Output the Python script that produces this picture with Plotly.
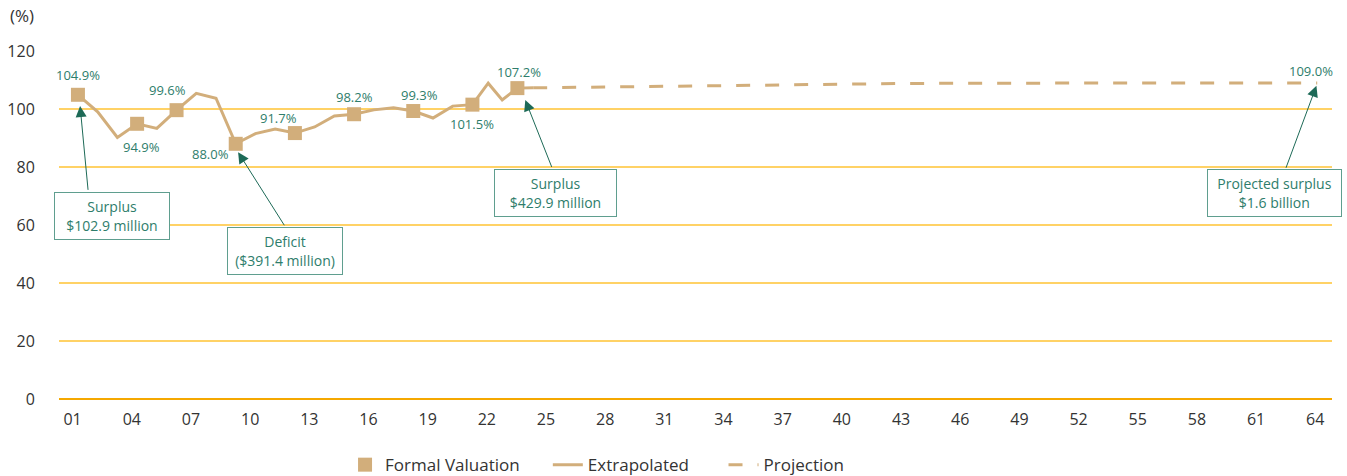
import plotly.graph_objects as go

# Axis ticks (two-digit year labels)
year_ticks = list(range(1, 65, 3))
tick_labels = [f"{y:02d}" for y in year_ticks]

# Formal valuation results (funded ratio, %)
val_x = [1.27, 4.27, 6.27, 9.27, 12.27, 15.27, 18.27, 21.27, 23.55]
val_y = [104.9, 94.9, 99.6, 88.0, 91.7, 98.2, 99.3, 101.5, 107.2]

# Extrapolated funded ratio between valuations
ext_x = [1.27, 2.27, 3.27, 4.27, 5.27, 6.27, 7.27, 8.27, 9.27, 10.27, 11.27,
         12.27, 13.27, 14.27, 15.27, 16.27, 17.27, 18.27, 19.27, 20.27, 21.27,
         22.07, 22.78, 23.55, 24.35]
ext_y = [104.9, 99.0, 90.2, 94.9, 93.3, 99.6, 105.4, 103.7, 88.0, 91.5, 93.1,
         91.7, 93.8, 97.6, 98.2, 99.7, 100.4, 99.3, 96.9, 101.0, 101.5,
         108.9, 103.1, 107.2, 107.3]

# Long-term projection
proj_x = [24.35, 28.27, 31.27, 34.27, 37.27, 40.27, 43.27, 46.27, 52.27, 58.27, 64.1]
proj_y = [107.3, 107.6, 107.9, 108.2, 108.5, 108.6, 108.8, 108.9, 108.9, 109.0, 109.0]

# Pixel offsets of the value labels relative to their valuation markers
val_label_shift = [(0, 20), (4, -23), (-9, 20), (-25, -10), (-16, 15),
                   (0, 17), (6, 16), (0, -19), (2, 16)]

# Call-out boxes: text, centre (x, y), width, height
callouts = [
    ("Surplus<br>$102.9 million", 3.0, 63.2, 114, 46),
    ("Deficit<br>($391.4 million)", 11.78, 51.1, 114, 46),
    ("Surplus<br>$429.9 million", 25.49, 71.2, 121, 46),
    ("Projected surplus<br>$1.6 billion", 61.95, 70.9, 133, 46),
]
# Arrows: tail (x, y) -> tip (x, y)
arrows = [
    ((1.79, 71.6), (1.38, 101.0)),
    ((11.78, 59.4), (9.39, 85.1)),
    ((25.32, 79.5), (23.95, 103.1)),
    ((62.49, 79.2), (64.06, 108.0)),
]

TAN = "#D2AE7B"
TEAL_TEXT = "#2E7D6B"
ARROW = "#1D6A57"
BOX_EDGE = "#5F9E8F"
AXIS_TEXT = "#333333"
FONT = "Open Sans"

fig = go.Figure()

fig.add_trace(go.Scatter(
    x=proj_x, y=proj_y, mode="lines", name="Projection",
    line=dict(color=TAN, width=3, dash="14px,15px"),
    legend="legend3", hoverinfo="skip",
))
fig.add_trace(go.Scatter(
    x=ext_x, y=ext_y, mode="lines", name="Extrapolated",
    line=dict(color=TAN, width=3),
    legend="legend2", hoverinfo="skip",
))
fig.add_trace(go.Scatter(
    x=val_x, y=val_y, mode="markers", name="Formal Valuation",
    marker=dict(symbol="square", size=14, color=TAN),
    legend="legend", cliponaxis=False,
))

annotations = []
for x, y, (dx, dy) in zip(val_x, val_y, val_label_shift):
    annotations.append(dict(
        x=x, y=y, xref="x", yref="y", text=f"{y:.1f}%", showarrow=False,
        xshift=dx, yshift=dy, font=dict(family=FONT, size=13, color=TEAL_TEXT),
    ))
annotations.append(dict(
    x=proj_x[-1], y=proj_y[-1], xref="x", yref="y", text=f"{proj_y[-1]:.1f}%",
    showarrow=False, xshift=-6, yshift=12,
    font=dict(family=FONT, size=13, color=TEAL_TEXT),
))

for text, cx, cy, w, h in callouts:
    annotations.append(dict(
        x=cx, y=cy, xref="x", yref="y", text=text, showarrow=False,
        width=w, height=h, align="center", valign="middle",
        bgcolor="white", bordercolor=BOX_EDGE, borderwidth=1, borderpad=0,
        font=dict(family=FONT, size=14, color=TEAL_TEXT),
    ))

for (tx, ty), (hx, hy) in arrows:
    annotations.append(dict(
        x=hx, y=hy, ax=tx, ay=ty, xref="x", yref="y", axref="x", ayref="y",
        text="", showarrow=True, arrowhead=2, arrowsize=2.2, arrowwidth=1,
        arrowcolor=ARROW, standoff=0, startstandoff=0,
    ))

annotations.append(dict(
    x=-0.04, y=1.102, xref="paper", yref="paper", text="(%)", showarrow=False,
    xanchor="left", yanchor="middle",
    font=dict(family=FONT, size=17, color=AXIS_TEXT),
))


def legend_at(x):
    return dict(
        orientation="h", x=x, xanchor="left", y=-0.19, yanchor="middle",
        font=dict(family=FONT, size=17, color=AXIS_TEXT),
        itemwidth=30, bgcolor="rgba(0,0,0,0)",
    )


fig.update_layout(
    width=1347, height=476, autosize=False,
    margin=dict(l=59, r=15, t=51, b=77, autoexpand=False),
    paper_bgcolor="white", plot_bgcolor="white",
    font=dict(family=FONT, size=16, color=AXIS_TEXT),
    showlegend=True,
    legend=legend_at(0.2247),
    legend2=legend_at(0.384),
    legend3=legend_at(0.522),
    annotations=annotations,
    xaxis=dict(
        range=[0.31, 64.85], tickvals=year_ticks, ticktext=tick_labels,
        showgrid=False, zeroline=False, showline=False,
        ticks="outside", ticklen=6, tickcolor="rgba(0,0,0,0)",
        tickfont=dict(family=FONT, size=16, color=AXIS_TEXT),
    ),
    yaxis=dict(
        range=[0, 120], tickvals=[0, 20, 40, 60, 80, 100, 120],
        showgrid=True, gridcolor="#FFD266", gridwidth=1.5,
        zeroline=True, zerolinecolor="#F5A800", zerolinewidth=2,
        showline=False, ticks="outside", ticklen=20, tickcolor="rgba(0,0,0,0)",
        tickfont=dict(family=FONT, size=16, color=AXIS_TEXT),
    ),
)

fig.write_html("out.html")
